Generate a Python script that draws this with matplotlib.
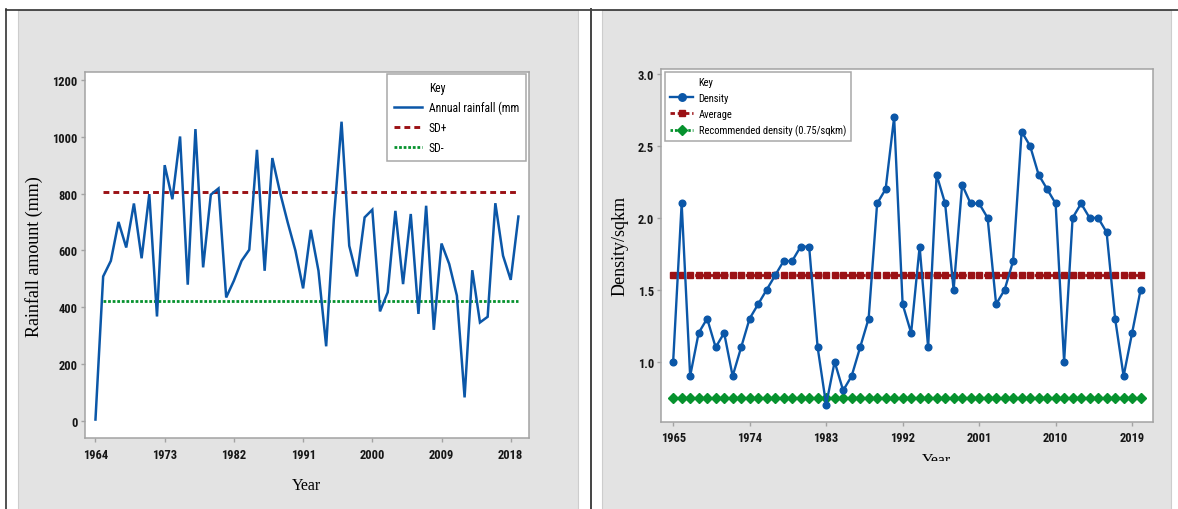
import matplotlib
matplotlib.use("Agg")
import matplotlib.pyplot as plt
from matplotlib import font_manager
from matplotlib.lines import Line2D
from matplotlib.patches import Rectangle
from matplotlib.transforms import Bbox, TransformedBbox

# ---------------- data ----------------
rain_years = list(range(1964, 2020))
rain_mm = [4, 508, 563, 700, 610, 765, 572, 798, 367, 900,
           780, 1001, 479, 1027, 540, 796, 818, 434, 493, 563,
           602, 954, 528, 925, 804, 698, 599, 466, 672, 528,
           262, 710, 1053, 616, 508, 716, 743, 385, 452, 739,
           481, 728, 376, 757, 320, 624, 552, 440, 82, 530,
           346, 366, 766, 581, 496, 719]
sd_plus = 805
sd_minus = 423
rain_xticks = [1964, 1973, 1982, 1991, 2000, 2009, 2018]
rain_yticks = [0, 200, 400, 600, 800, 1000, 1200]

dens_years = list(range(1965, 2021))
density = [1.0, 2.1, 0.9, 1.2, 1.3, 1.1, 1.2, 0.9, 1.1, 1.3,
           1.4, 1.5, 1.6, 1.7, 1.7, 1.8, 1.8, 1.1, 0.7, 1.0,
           0.8, 0.9, 1.1, 1.3, 2.1, 2.2, 2.7, 1.4, 1.2, 1.8,
           1.1, 2.3, 2.1, 1.5, 2.23, 2.1, 2.1, 2.0, 1.4, 1.5,
           1.7, 2.6, 2.5, 2.3, 2.2, 2.1, 1.0, 2.0, 2.1, 2.0,
           2.0, 1.9, 1.3, 0.9, 1.2, 1.5]
dens_avg = 1.6
dens_rec = 0.75
dens_xticks = [1965, 1974, 1983, 1992, 2001, 2010, 2019]
dens_yticks = [1.0, 1.5, 2.0, 2.5, 3.0]

# ---------------- style ----------------
BLUE = "#0B57A8"
RED = "#9B1115"
GREEN = "#06922E"
GRAY_BG = "#E3E3E3"
SPINE = "#A3A3A3"

names = {f.name for f in font_manager.fontManager.ttflist}
narrow = next((n for n in ["Liberation Sans Narrow", "DejaVu Sans Condensed",
                           "Roboto Condensed", "Liberation Sans"] if n in names), "DejaVu Sans")
serif = "Liberation Serif" if "Liberation Serif" in names else "DejaVu Serif"

W, H = 1178, 510
fig = plt.figure(figsize=(W / 100, H / 100), dpi=100)
fig.patch.set_facecolor("white")


def fx(x):
    return x / W


def fy(y):
    return 1 - y / H


def rect(x0, y0, x1, y1, **kw):
    fig.add_artist(Rectangle((fx(x0), fy(y1)), fx(x1) - fx(x0), fy(y0) - fy(y1),
                             transform=fig.transFigure, **kw))


def hline(x0, x1, y, **kw):
    fig.add_artist(Line2D([fx(x0), fx(x1)], [fy(y), fy(y)], transform=fig.transFigure, **kw))


def vline(x, y0, y1, **kw):
    fig.add_artist(Line2D([fx(x), fx(x)], [fy(y0), fy(y1)], transform=fig.transFigure, **kw))


# gray panels + black frame
rect(18, 11, 578.3, 511, facecolor=GRAY_BG, edgecolor="#CDCDCD", lw=0.8, zorder=0)
rect(602.3, 11, 1171, 511, facecolor=GRAY_BG, edgecolor="#CDCDCD", lw=0.8, zorder=0)
hline(6, 1178, 10.5, color="#333333", lw=1.2)
vline(6.3, 10, 510, color="#333333", lw=1.2)
vline(591, 10, 510, color="#444444", lw=1.4)


def style_axes(ax):
    ax.set_facecolor("white")
    for s in ax.spines.values():
        s.set_color(SPINE)
        s.set_linewidth(1.1)
    ax.tick_params(direction="out", length=3.2, width=1.0, color=SPINE,
                   labelsize=9.0, labelcolor="#161616", pad=1.8)
    for lab in ax.get_xticklabels() + ax.get_yticklabels():
        lab.set_fontfamily(narrow)
        lab.set_fontweight("bold")
    ax.tick_params(axis="x", pad=3.5)


# ---------------- left: rainfall ----------------
ax1 = fig.add_axes([fx(84.7), fy(439.3), fx(528.8) - fx(84.7), fy(73.3) - fy(439.3)])
ax1.plot(rain_years, rain_mm, color=BLUE, lw=1.8, solid_joinstyle="miter", zorder=3)
ax1.plot(rain_years[1:], [sd_plus] * len(rain_years[1:]), color=RED, lw=2.1,
         dashes=(2.0, 1.4), zorder=2)
ax1.plot(rain_years[1:], [sd_minus] * len(rain_years[1:]), color=GREEN, lw=2.0,
         dashes=(1.0, 0.65), zorder=2)
ax1.set_xlim(1962.6, 2020.35)
ax1.set_ylim(-62, 1227)
ax1.set_xticks(rain_xticks)
ax1.set_yticks(rain_yticks)
style_axes(ax1)
ax1.set_xlabel("Year", fontfamily=serif, fontsize=11.5)
ax1.set_ylabel("Rainfall amount (mm)", fontfamily=serif, fontsize=13)
ax1.xaxis.set_label_coords(0.5, -0.106)
ax1.yaxis.set_label_coords(-0.095, 0.498)

h1 = [Line2D([], [], color="none"),
      Line2D([], [], color=BLUE, lw=1.8),
      Line2D([], [], color=RED, lw=2.1, dashes=(2.0, 1.4)),
      Line2D([], [], color=GREEN, lw=2.0, dashes=(1.0, 0.65))]
l1 = ["Key", "Annual rainfall (mm", "SD+", "SD-"]
leg1 = ax1.legend(h1, l1, loc="upper right", bbox_to_anchor=(0.9937, 0.9954),
                  borderaxespad=0, fancybox=False, framealpha=1, edgecolor="#A8A8A8",
                  prop={"family": narrow, "size": 8.4}, handlelength=2.4,
                  handletextpad=0.55, labelspacing=0.58, borderpad=0.6)
leg1.get_frame().set_linewidth(1.1)

# ---------------- right: density ----------------
ax2 = fig.add_axes([fx(661), fy(422.7), fx(1152.5) - fx(661), fy(70) - fy(422.7)])
ax2.plot(dens_years, [dens_avg] * len(dens_years), color=RED, lw=2.0, dashes=(1.6, 1.0),
         marker="s", ms=3.9, zorder=2)
ax2.plot(dens_years, [dens_rec] * len(dens_years), color=GREEN, lw=2.0, dashes=(0.9, 0.7),
         marker="D", ms=5.0, zorder=2)
ax2.plot(dens_years, density, color=BLUE, lw=1.7, marker="o", ms=4.8, zorder=3)
ax2.set_xlim(1963.57, 2021.4)
ax2.set_ylim(0.583, 3.035)
ax2.set_xticks(dens_xticks)
ax2.set_yticks(dens_yticks)
ax2.set_yticklabels([f"{v:.1f}" for v in dens_yticks])
style_axes(ax2)
xl = ax2.set_xlabel("Year", fontfamily=serif, fontsize=11.5)
ax2.set_ylabel("Density/sqkm", fontfamily=serif, fontsize=13)
ax2.xaxis.set_label_coords(0.561, -0.086)
ax2.yaxis.set_label_coords(-0.066, 0.501)
xl.set_clip_box(TransformedBbox(Bbox.from_extents(fx(602), fy(462), fx(1171), fy(400)),
                                fig.transFigure))
xl.set_clip_on(True)

h2 = [Line2D([], [], color="none"),
      Line2D([], [], color=BLUE, lw=1.7, marker="o", ms=5.4),
      Line2D([], [], color=RED, lw=2.0, dashes=(1.6, 1.0), marker="s", ms=4.6),
      Line2D([], [], color=GREEN, lw=2.0, dashes=(0.9, 0.7), marker="D", ms=5.2)]
l2 = ["Key", "Density", "Average", "Recommended density (0.75/sqkm)"]
leg2 = ax2.legend(h2, l2, loc="upper left", bbox_to_anchor=(0.008, 0.9915), numpoints=1,
                  borderaxespad=0, fancybox=False, framealpha=1, edgecolor="#A8A8A8",
                  prop={"family": narrow, "size": 7.6}, handlelength=2.2,
                  handletextpad=0.5, labelspacing=0.55, borderpad=0.5)
leg2.get_frame().set_linewidth(1.1)

fig.savefig("out.png", dpi=100, facecolor="white")
